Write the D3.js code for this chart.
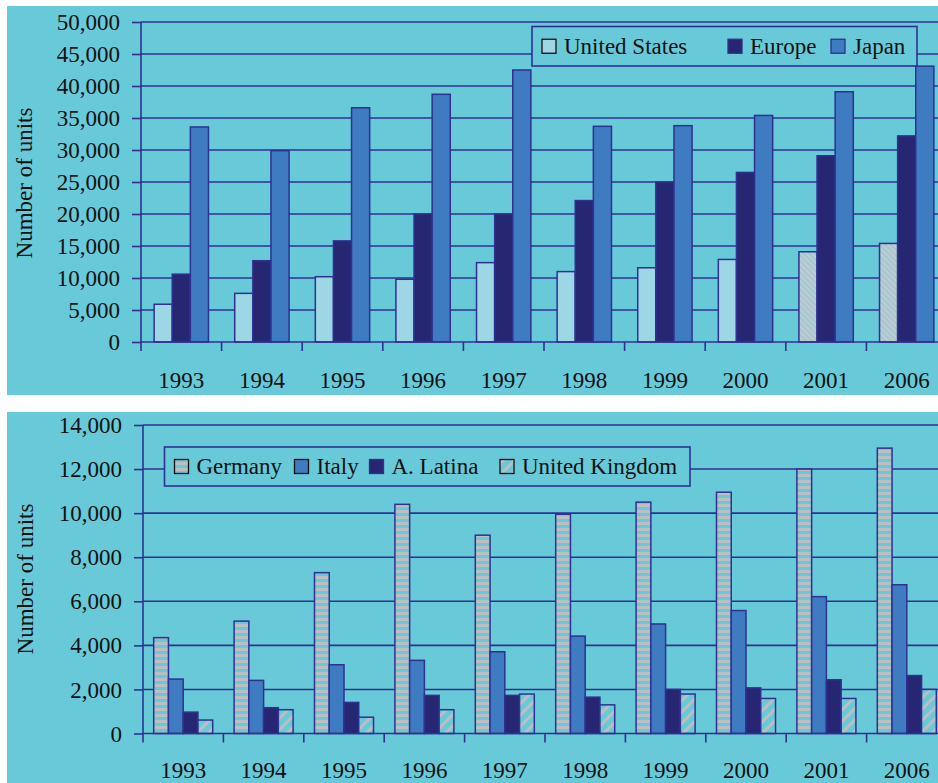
<!DOCTYPE html>
<html><head><meta charset="utf-8">
<script src="https://cdn.jsdelivr.net/npm/d3@7"></script>
<style>
html,body{margin:0;padding:0;background:#fff;}
svg{display:block;}
text{font-family:"Liberation Serif","Times New Roman",serif;fill:#111;}
</style></head>
<body>
<script>
// ---------- data ----------
const years = ["1993","1994","1995","1996","1997","1998","1999","2000","2001","2006"];
const usUnits     = [5900, 7600, 10200, 9800, 12400, 11000, 11600, 12900, 14100, 15400];
const europeUnits = [10600, 12700, 15800, 20000, 20000, 22100, 25000, 26500, 29100, 32200];
const japanUnits  = [33600, 29900, 36600, 38700, 42500, 33700, 33800, 35400, 39100, 43100];
const usHatchedYears = ["2001","2006"];
const topSeries = ["United States","Europe","Japan"];
const topTicks = [0,5000,10000,15000,20000,25000,30000,35000,40000,45000,50000];

const germanyUnits = [4350, 5100, 7300, 10400, 9000, 9950, 10500, 10950, 12000, 12950];
const italyUnits   = [2470, 2410, 3120, 3320, 3710, 4420, 4970, 5580, 6210, 6750];
const aLatinaUnits = [970, 1170, 1410, 1730, 1730, 1650, 2000, 2070, 2440, 2630];
const ukUnits      = [610, 1080, 740, 1080, 1790, 1300, 1790, 1590, 1590, 2000];
const bottomSeries = ["Germany","Italy","A. Latina","United Kingdom"];
const bottomTicks = [0,2000,4000,6000,8000,10000,12000,14000];
const yTitle = "Number of units";

// ---------- style ----------
const BG = "#68c9d9", NAVY = "#2e3190", DARK = "#262673", MID = "#3f7bc1", LIGHT = "#9dd7e5", GRAY = "#bdbdc2";
const W = 938, H = 783;
const fmt = d3.format(",");

const svg = d3.select("body").append("svg").attr("width", W).attr("height", H);
const defs = svg.append("defs");

// horizontal stripes (Germany)
const pg = defs.append("pattern").attr("id","pGer").attr("patternUnits","userSpaceOnUse")
  .attr("width",6).attr("height",6);
pg.append("rect").attr("width",6).attr("height",6).attr("fill",BG);
pg.append("rect").attr("width",6).attr("height",3).attr("fill",GRAY);
// "/" hatch (UK)
const pu = defs.append("pattern").attr("id","pUK").attr("patternUnits","userSpaceOnUse")
  .attr("width",8).attr("height",8).attr("patternTransform","rotate(45)");
pu.append("rect").attr("width",8).attr("height",8).attr("fill",BG);
pu.append("rect").attr("width",3).attr("height",8).attr("fill",GRAY);
// "\" fine hatch (US projections)
const ph = defs.append("pattern").attr("id","pUS").attr("patternUnits","userSpaceOnUse")
  .attr("width",4).attr("height",4).attr("patternTransform","rotate(-45)");
ph.append("rect").attr("width",4).attr("height",4).attr("fill","#a6d6df");
ph.append("rect").attr("width",2).attr("height",4).attr("fill",GRAY);

function panel(cfg){
  const g = svg.append("g");
  g.append("rect").attr("x",cfg.px).attr("y",cfg.py).attr("width",W-cfg.px).attr("height",cfg.ph).attr("fill",BG);

  const x = d3.scaleBand().domain(years).range([cfg.x0, cfg.x1]).padding(0);
  const bw = x.bandwidth();
  const gap = bw * cfg.gapFrac / (cfg.series.length + cfg.gapFrac);
  const xs = d3.scaleBand().domain(cfg.series).range([gap/2, bw - gap/2]).padding(0);
  const y = d3.scaleLinear().domain([0, cfg.max]).range([cfg.y0, cfg.yTop]);

  // gridlines
  g.append("g").selectAll("line").data(cfg.ticks.slice(1)).join("line")
    .attr("x1",cfg.x0).attr("x2",W).attr("y1",d=>y(d)).attr("y2",d=>y(d))
    .attr("stroke",NAVY).attr("stroke-width",1.6);

  // y axis
  const ya = d3.axisLeft(y).tickValues(cfg.ticks).tickFormat(fmt).tickSize(9).tickPadding(12);
  const yg = g.append("g").attr("transform",`translate(${cfg.x0},0)`).call(ya);
  yg.select(".domain").remove();
  yg.selectAll(".tick line").attr("stroke",NAVY).attr("stroke-width",1.6);
  yg.selectAll(".tick text").attr("font-size",23).attr("font-family","Liberation Serif").attr("fill","#111").attr("dy","0.33em");
  g.append("line").attr("x1",cfg.x0).attr("x2",cfg.x0).attr("y1",cfg.yTop).attr("y2",cfg.y0+9)
    .attr("stroke",NAVY).attr("stroke-width",1.6);

  // bars
  cfg.series.forEach((s,si)=>{
    g.append("g").selectAll("rect").data(years).join("rect")
      .attr("x",(d)=>x(d)+xs(s))
      .attr("y",(d,i)=>y(cfg.values[si][i]))
      .attr("width",xs.bandwidth())
      .attr("height",(d,i)=>cfg.y0 - y(cfg.values[si][i]))
      .attr("fill",(d)=>cfg.fill(s,d))
      .attr("stroke",NAVY).attr("stroke-width",1.5);
  });

  // x axis
  const xa = d3.axisBottom(x).tickSize(0).tickPadding(0);
  const xg = g.append("g").attr("transform",`translate(0,${cfg.y0})`);
  xg.append("line").attr("x1",cfg.x0).attr("x2",W).attr("stroke",NAVY).attr("stroke-width",1.6);
  xg.selectAll("line.tk").data(years.slice(1)).join("line").attr("class","tk")
    .attr("x1",d=>x(d)).attr("x2",d=>x(d)).attr("y1",0).attr("y2",9)
    .attr("stroke",NAVY).attr("stroke-width",1.6);
  xg.selectAll("text.yl").data(years).join("text").attr("class","yl")
    .attr("x",d=>x(d)+bw/2).attr("y",cfg.labelY - cfg.y0)
    .attr("text-anchor","middle").attr("font-size",23).text(d=>d);

  // y title
  g.append("text").attr("transform",`translate(${cfg.titleX},${cfg.titleY}) rotate(-90)`)
    .attr("text-anchor","middle").attr("font-size",23).text(yTitle);

  // legend
  const L = cfg.legend;
  const lg = g.append("g");
  lg.append("rect").attr("x",L.x).attr("y",L.y).attr("width",L.w).attr("height",L.h)
    .attr("fill",BG).attr("stroke",NAVY).attr("stroke-width",1.6);
  cfg.series.forEach((s,i)=>{
    lg.append("rect").attr("x",L.items[i]).attr("y",L.y + L.h/2 - 7).attr("width",14).attr("height",14)
      .attr("fill",cfg.fill(s,null)).attr("stroke", s===cfg.series[0]||s==="United Kingdom"||s==="Italy"? "#111":NAVY).attr("stroke-width",1.3);
    lg.append("text").attr("x",L.items[i]+22).attr("y",L.y + L.h/2 + 7.5)
      .attr("font-size",23).text(s);
  });
}

panel({
  px:7, py:6, ph:389,
  x0:141, x1:947, y0:342, yTop:22, max:50000, ticks:topTicks, gapFrac:1.45,
  series:topSeries, values:[usUnits, europeUnits, japanUnits],
  fill:(s,d)=> s==="United States" ? (d && usHatchedYears.includes(d) ? "url(#pUS)" : LIGHT) : s==="Europe" ? DARK : MID,
  labelY:388, titleX:32, titleY:183,
  legend:{x:532, y:26.5, w:385, h:39.5, items:[542, 728, 831]}
});

panel({
  px:7, py:412, ph:371,
  x0:143, x1:947, y0:733.5, yTop:425, max:14000, ticks:bottomTicks, gapFrac:1.45,
  series:bottomSeries, values:[germanyUnits, italyUnits, aLatinaUnits, ukUnits],
  fill:(s,d)=> s==="Germany" ? "url(#pGer)" : s==="Italy" ? MID : s==="A. Latina" ? DARK : "url(#pUK)",
  labelY:778, titleX:33, titleY:579,
  legend:{x:164.5, y:447, w:525.5, h:39, items:[174.5, 294.5, 369.5, 500]}
});
</script>
</body></html>
